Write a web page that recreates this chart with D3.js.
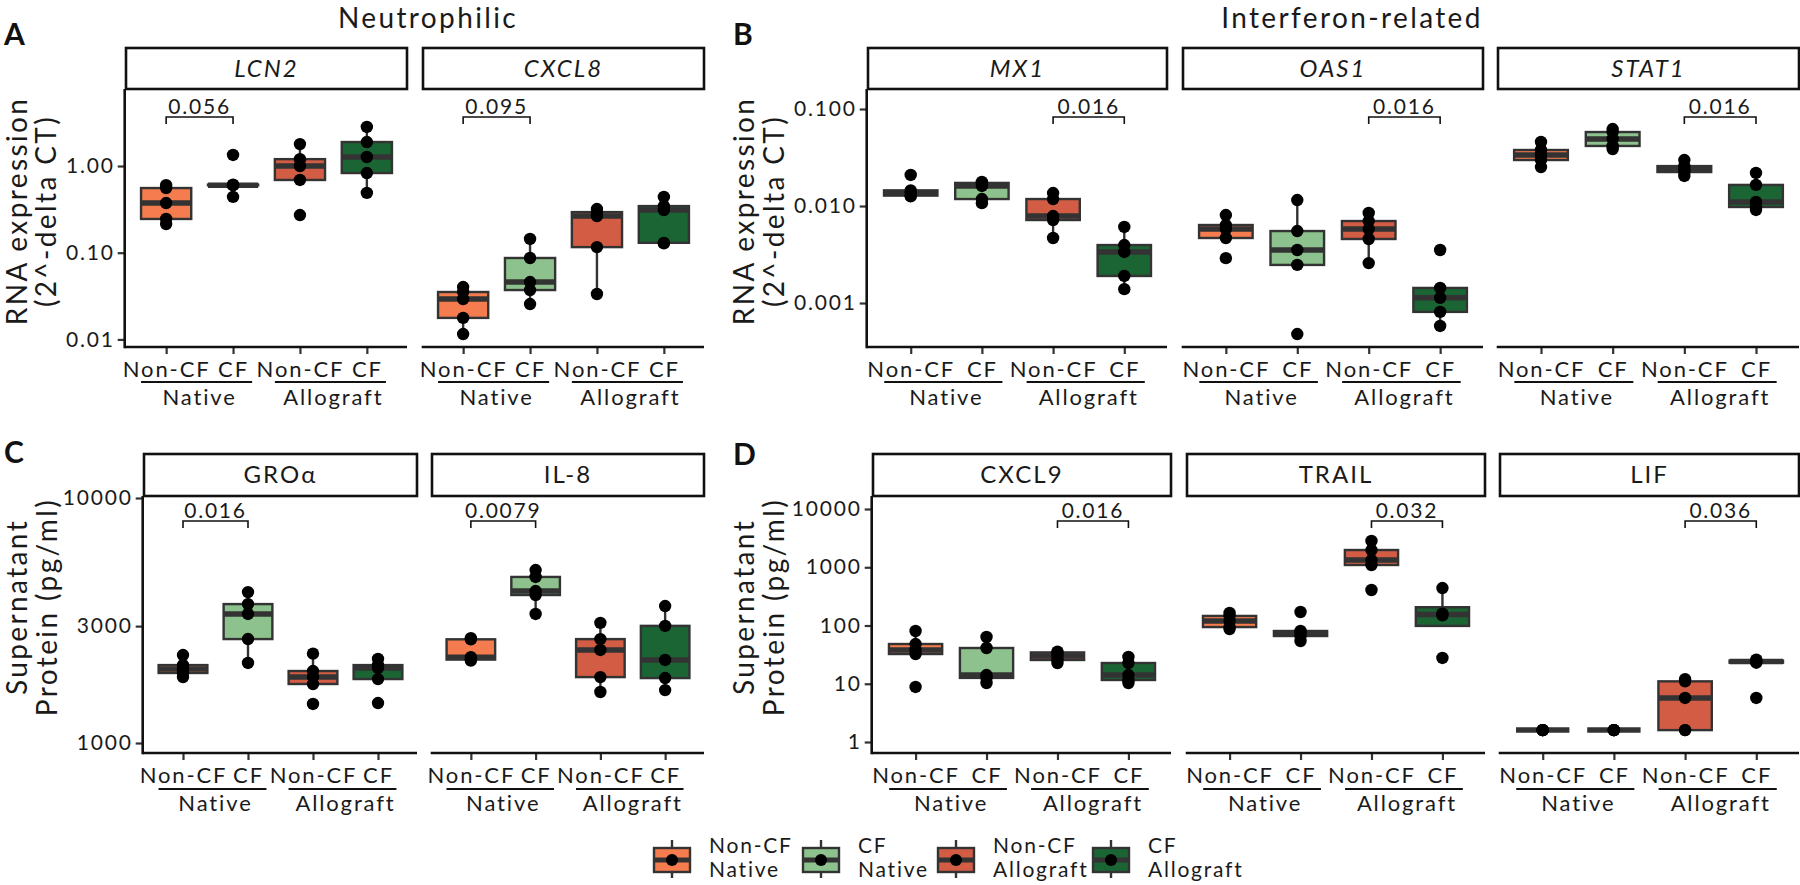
<!DOCTYPE html>
<html><head><meta charset="utf-8">
<script src="https://cdn.jsdelivr.net/npm/d3@7"></script>
<style>
body{margin:0;background:#fff}
svg{display:block}
text{font-family:Lato,"Open Sans",sans-serif;letter-spacing:0.085em;}
</style>
</head><body>
<svg id="chart" width="1800" height="885"></svg>
<script>
// ---------------- data ----------------
const groups = ["Non-CF Native","CF Native","Non-CF Allograft","CF Allograft"];
const tickLabels = ["Non-CF","CF","Non-CF","CF"];
const groupLabels = ["Native","Allograft"];
const colors = ["#F47C4E","#8DC18D","#D35C45","#1B6434"];

// RNA expression (2^-delta CT), panel A
const LCN2  = [[0.60,0.557,0.374,0.245,0.214],[1.34,0.61,0.60,0.60,0.44],[1.79,1.20,1.00,0.69,0.272],[2.82,1.89,1.27,0.83,0.49]];
const CXCL8 = [[0.0402,0.0352,0.0292,0.0177,0.01154],[0.144,0.0869,0.0459,0.0371,0.0256],[0.319,0.294,0.265,0.116,0.0334],[0.44,0.345,0.31,0.13,0.128]];
// panel B
const MX1   = [[0.0209,0.0145,0.0136,0.0128,0.0126],[0.0177,0.0173,0.0161,0.0118,0.0107],[0.0136,0.0118,0.00788,0.00717,0.00468],[0.00608,0.00396,0.00336,0.0019,0.00139]];
const OAS1  = [[0.00807,0.00637,0.00579,0.00468,0.0029],[0.01153,0.00552,0.00352,0.00247,0.000479],[0.00847,0.0070,0.00579,0.00457,0.00258],[0.00352,0.00143,0.00113,0.00081,0.00058]];
const STAT1 = [[0.0457,0.0378,0.0336,0.0298,0.0252],[0.0622,0.0579,0.0491,0.0416,0.0387],[0.0298,0.0258,0.024,0.0224,0.0204],[0.0219,0.0165,0.011,0.00977,0.0091]];
// Supernatant protein (pg/ml), panel C
const GROa  = [[2286,2080,2005,1931,1858],[4130,3690,3363,2656,2122],[2317,1967,1858,1741,1443],[2203,2080,2024,1824,1456]];
const IL8   = [[2680,2650,2240,2190,2170],[5080,4762,4170,4018,3363],[3093,2655,2397,1858,1615],[3622,3007,2183,1841,1644]];
// panel D
const CXCL9 = [[80.5,48.1,38,32.4,8.8],[63.5,41.1,14.1,12.6,10.3],[35.5,34.5,30,25.6,22.7],[28.8,22.7,14.1,11.6,10.3]];
const TRAIL = [[164,146,119,94,87],[170.6,80.5,74.3,66,54.2],[2825,1977,1330,1093,407],[440,160,150,27.7]];
const LIF   = [[1.6,1.6,1.6,1.6,1.6],[1.6,1.6,1.6,1.6,1.6],[12,11,5.7,1.6,1.6],[26,25,24,23,5.7]];

const pLabels = ["0.056","0.095","0.016","0.016","0.016","0.016","0.0079","0.016","0.032","0.036"];
const pPairs  = [[0,1],[0,1],[2,3],[2,3],[2,3],[0,1],[0,1],[2,3],[2,3],[2,3]];

const yTicksA = [0.01,0.1,1], yTickLabA = ["0.01","0.10","1.00"];
const yTicksB = [0.001,0.01,0.1], yTickLabB = ["0.001","0.010","0.100"];
const yTicksC = [1000,3000,10000], yTickLabC = ["1000","3000","10000"];
const yTicksD = [1,10,100,1000,10000], yTickLabD = ["1","10","100","1000","10000"];

// ---------------- layout ----------------
const svg = d3.select("#chart");
const rows = [
  {stripTop:48, plotTop:89, plotBottom:347, bracketY:117, labBase:377, lineY:382, grpBase:405},
  {stripTop:454, plotTop:496, plotBottom:753, bracketY:521, labBase:783, lineY:789, grpBase:811}
];
const blocks = {
  A:{row:0, dom:[0.008173,7.73], ticks:yTicksA, labs:yTickLabA, titleX:[27,56], titleCY:211, title:["RNA expression","(2^-delta CT)"]},
  B:{row:0, dom:[0.000352,0.1608], ticks:yTicksB, labs:yTickLabB, titleX:[754,784], titleCY:211, title:["RNA expression","(2^-delta CT)"]},
  C:{row:1, dom:[910.4,10189], ticks:yTicksC, labs:yTickLabC, titleX:[27,57], titleCY:607, title:["Supernatant","Protein (pg/ml)"]},
  D:{row:1, dom:[0.6475,16722], ticks:yTicksD, labs:yTickLabD, titleX:[754,784], titleCY:607, title:["Supernatant","Protein (pg/ml)"]}
};
const panels = [
  {name:"LCN2", italic:true, data:LCN2, block:"A", x0:126, x1:407, first:true},
  {name:"CXCL8", italic:true, data:CXCL8, block:"A", x0:423, x1:704},
  {name:"MX1", italic:true, data:MX1, block:"B", x0:868, x1:1167, first:true},
  {name:"OAS1", italic:true, data:OAS1, block:"B", x0:1183, x1:1483},
  {name:"STAT1", italic:true, data:STAT1, block:"B", x0:1498, x1:1799},
  {name:"GROα", data:GROa, block:"C", x0:144, x1:417, first:true},
  {name:"IL-8", data:IL8, block:"C", x0:432, x1:704},
  {name:"CXCL9", data:CXCL9, block:"D", x0:873, x1:1171, first:true},
  {name:"TRAIL", data:TRAIL, block:"D", x0:1187, x1:1485},
  {name:"LIF", data:LIF, block:"D", x0:1500, x1:1799}
];
const dark = "#333333";
const textCol = "#1a1a1a";

function boxStats(vals){
  const l = vals.map(Math.log10).sort(d3.ascending);
  const q1 = d3.quantileSorted(l,0.25), med = d3.quantileSorted(l,0.5), q3 = d3.quantileSorted(l,0.75);
  const iqr = q3-q1;
  const lo = d3.min(l.filter(v=>v>=q1-1.5*iqr));
  const hi = d3.max(l.filter(v=>v<=q3+1.5*iqr));
  const p = v=>Math.pow(10,v);
  return {q1:p(q1),med:p(med),q3:p(q3),lo:p(lo),hi:p(hi)};
}

panels.forEach((P,pi)=>{
  const B = blocks[P.block], R = rows[B.row];
  const g = svg.append("g");
  const x = d3.scalePoint().domain(groups).range([P.x0,P.x1]).padding(0.6);
  const y = d3.scaleLog().domain(B.dom).range([R.plotBottom,R.plotTop]);
  const step = x.step(), bw = step*0.75;

  // strip
  g.append("rect").attr("x",P.x0).attr("y",R.stripTop).attr("width",P.x1-P.x0).attr("height",R.plotTop-R.stripTop)
    .attr("fill","#fff").attr("stroke","#111").attr("stroke-width",2.6);
  g.append("text").attr("x",(P.x0+P.x1)/2).attr("y",(R.stripTop+R.plotTop)/2).attr("dy","0.35em")
    .attr("text-anchor","middle").attr("font-size",24).attr("font-style",P.italic?"italic":"normal")
    .attr("fill",textCol).text(P.name);

  // x axis
  const xa = g.append("g").attr("transform",`translate(0,${R.plotBottom})`)
    .call(d3.axisBottom(x).tickSize(7).tickFormat((d,i)=>tickLabels[i]));
  xa.select(".domain").remove();
  xa.selectAll(".tick line").attr("stroke",dark).attr("stroke-width",2.2);
  xa.selectAll(".tick text").attr("font-size",22).attr("fill",textCol).attr("y",0).attr("dy",0)
    .attr("transform",`translate(0,${R.labBase-R.plotBottom})`).attr("font-family","Lato");
  g.append("line").attr("x1",P.x0-1.3).attr("x2",P.x1).attr("y1",R.plotBottom).attr("y2",R.plotBottom)
    .attr("stroke","#111").attr("stroke-width",2.6);

  // nested group lines
  [[0,1],[2,3]].forEach((pair,k)=>{
    const a = x(groups[pair[0]]), b = x(groups[pair[1]]);
    const c = (a+b)/2 - 3, half = step*0.83;
    g.append("line").attr("x1",c-half).attr("x2",c+half).attr("y1",R.lineY).attr("y2",R.lineY)
      .attr("stroke","#111").attr("stroke-width",2);
    g.append("text").attr("x",(a+b)/2).attr("y",R.grpBase).attr("text-anchor","middle")
      .attr("font-size",22).attr("fill",textCol).text(groupLabels[k]);
  });

  // y axis (first panel of block)
  if(P.first){
    const ya = g.append("g").attr("transform",`translate(${P.x0-1.3},0)`)
      .call(d3.axisLeft(y).tickValues(B.ticks).tickSize(7).tickFormat((d,i)=>B.labs[i]));
    ya.select(".domain").remove();
    ya.selectAll(".tick line").attr("stroke",dark).attr("stroke-width",2.2);
    ya.selectAll(".tick text").attr("font-size",21).attr("fill",textCol).attr("x",-10).attr("font-family","Lato");
    g.append("line").attr("x1",P.x0-1.3).attr("x2",P.x0-1.3).attr("y1",R.plotTop).attr("y2",R.plotBottom+1.3)
      .attr("stroke","#111").attr("stroke-width",2.6);
  }

  // boxes
  P.data.forEach((vals,gi)=>{
    const s = boxStats(vals), cx = x(groups[gi]);
    g.append("line").attr("x1",cx).attr("x2",cx).attr("y1",y(s.hi)).attr("y2",y(s.q3)).attr("stroke",dark).attr("stroke-width",2.4);
    g.append("line").attr("x1",cx).attr("x2",cx).attr("y1",y(s.q1)).attr("y2",y(s.lo)).attr("stroke",dark).attr("stroke-width",2.4);
    g.append("rect").attr("x",cx-bw/2).attr("width",bw).attr("y",y(s.q3)).attr("height",Math.max(0,y(s.q1)-y(s.q3)))
      .attr("fill",colors[gi]).attr("stroke",dark).attr("stroke-width",2.4);
    g.append("line").attr("x1",cx-bw/2).attr("x2",cx+bw/2).attr("y1",y(s.med)).attr("y2",y(s.med))
      .attr("stroke",dark).attr("stroke-width",5.5);
    g.selectAll(null).data(vals).enter().append("circle")
      .attr("cx",cx).attr("cy",d=>y(d)).attr("r",6.2).attr("fill","#000");
  });

  // significance bracket
  const pp = pPairs[pi];
  const xa1 = x(groups[pp[0]]), xa2 = x(groups[pp[1]]);
  g.append("path").attr("d",`M${xa1},${R.bracketY+7}V${R.bracketY}H${xa2}V${R.bracketY+7}`)
    .attr("fill","none").attr("stroke","#111").attr("stroke-width",1.6);
  g.append("text").attr("x",(xa1+xa2)/2).attr("y",R.bracketY-3).attr("text-anchor","middle")
    .attr("font-size",21).attr("fill",textCol).text(pLabels[pi]);
});

// y-axis titles
Object.values(blocks).forEach(B=>{
  B.title.forEach((t,i)=>{
    svg.append("text").attr("transform",`translate(${B.titleX[i]},${B.titleCY}) rotate(-90)`)
      .attr("text-anchor","middle").attr("font-size",28).attr("fill",textCol).text(t);
  });
});

// section titles and panel letters
svg.append("text").attr("x",428).attr("y",28).attr("text-anchor","middle").attr("font-size",28).attr("fill",textCol).text("Neutrophilic");
svg.append("text").attr("x",1352).attr("y",28).attr("text-anchor","middle").attr("font-size",28).attr("fill",textCol).text("Interferon-related");
[["A",4,45],["B",733,45],["C",4,463],["D",733,465]].forEach(d=>{
  svg.append("text").attr("x",d[1]).attr("y",d[2]).attr("font-size",30).attr("font-weight","bold")
    .style("letter-spacing","0").attr("fill","#111").text(d[0]);
});

// legend
const legX = [672,821,956,1111];
const legLines = [["Non-CF","Native"],["CF","Native"],["Non-CF","Allograft"],["CF","Allograft"]];
groups.forEach((gname,i)=>{
  const cx = legX[i], lg = svg.append("g");
  lg.append("line").attr("x1",cx).attr("x2",cx).attr("y1",840).attr("y2",878).attr("stroke",dark).attr("stroke-width",2.4);
  lg.append("rect").attr("x",cx-18).attr("y",848).attr("width",36).attr("height",24)
    .attr("fill",colors[i]).attr("stroke",dark).attr("stroke-width",2.4);
  lg.append("line").attr("x1",cx-18).attr("x2",cx+18).attr("y1",860).attr("y2",860).attr("stroke",dark).attr("stroke-width",5);
  lg.append("circle").attr("cx",cx).attr("cy",860).attr("r",6).attr("fill","#000");
  legLines[i].forEach((s,k)=>{
    lg.append("text").attr("x",cx+37).attr("y",853+k*24).attr("font-size",21).attr("fill",textCol).text(s);
  });
});
</script>
</body></html>
